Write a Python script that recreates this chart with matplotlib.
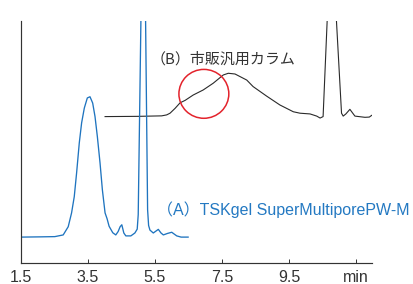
import matplotlib
matplotlib.use('Agg')
import matplotlib.pyplot as plt
from matplotlib.patches import Ellipse

W, H = 414, 284

# (A) TSKgel SuperMultiporePW-M  (time in min, signal)
blue_t = [1.5, 2.07, 2.51, 2.76, 2.91, 3.01, 3.09, 3.16, 3.24, 3.31, 3.39, 3.48, 3.56,
          3.64, 3.71, 3.78, 3.86, 3.93, 4.01, 4.07, 4.13, 4.24, 4.33, 4.40, 4.46, 4.51,
          4.57, 4.63, 4.78, 4.90, 4.97, 5.00, 5.08, 5.15, 5.22, 5.28, 5.31, 5.35, 5.45,
          5.53, 5.60, 5.68, 5.75, 5.87, 6.00, 6.15, 6.28, 6.49]
blue_v = [10.7, 10.8, 10.9, 11.6, 15.0, 20.7, 27.4, 37.2, 49.6, 57.9, 64.0, 68.2, 68.7,
          66.1, 60.5, 52.2, 41.3, 30.2, 20.7, 18.3, 15.2, 12.5, 11.6, 13.0, 15.0, 15.8,
          12.4, 11.2, 11.2, 12.4, 14.0, 20.0, 100, 165, 100, 22.0, 15.5, 13.6, 12.4,
          13.2, 13.9, 12.4, 11.6, 12.2, 12.7, 11.2, 10.7, 10.7]

# (B) commercial column
black_t = [4.01, 5.0, 5.70, 5.85, 5.95, 6.10, 6.25, 6.40, 6.64, 6.94, 7.24, 7.54, 7.69,
           7.89, 8.24, 8.43, 8.83, 9.23, 9.63, 9.83, 10.13, 10.33, 10.43, 10.52, 10.64,
           10.78, 10.92, 11.07, 11.12, 11.20, 11.32, 11.40, 11.47, 11.77, 11.90, 11.97]
black_v = [60.5, 60.6, 60.8, 61.2, 61.9, 63.9, 66.2, 67.2, 69.4, 71.5, 74.3, 77.7, 78.4,
           78.1, 75.6, 72.9, 69.0, 65.3, 62.5, 61.9, 61.6, 60.7, 59.9, 60.5, 99.7,
           140, 99.7, 61.9, 60.7, 61.6, 63.5, 62.0, 60.7, 60.2, 60.3, 61.0]

ticks = [1.5, 3.5, 5.5, 7.5, 9.5, 11.5]
tick_labels = ['1.5', '3.5', '5.5', '7.5', '9.5', 'min']

blue = '#1f74bf'
dark = '#333333'

fig = plt.figure(figsize=(W / 100, H / 100), dpi=100)
ax = fig.add_axes([21 / W, 1 - 263 / H, (372 - 21) / W, (263 - 21) / H])

ax.plot(black_t, black_v, color='#2a2a2a', lw=0.8, solid_joinstyle='round')
ax.plot(blue_t, blue_v, color=blue, lw=0.95, solid_joinstyle='round')

# red circle marking the shoulder
ax.add_patch(Ellipse((6.96, 69.9), width=1.49, height=20.2, fill=False,
                     ec='#e3232c', lw=1.1, zorder=5))

ax.set_xlim(1.5, 11.98)
ax.set_ylim(0, 100)
ax.set_yticks([])
ax.set_xticks(ticks)
ax.set_xticklabels(tick_labels, fontfamily='Liberation Sans', fontsize=11.5, color=dark)
ax.tick_params(axis='x', direction='in', length=3, width=0.7, color=dark, pad=5.3)
for s in ['top', 'right']:
    ax.spines[s].set_visible(False)
for s in ['left', 'bottom']:
    ax.spines[s].set_color(dark)
    ax.spines[s].set_linewidth(0.85)

fig.text(151 / W, 1 - 63.5 / H, '（B）市販汎用カラム', color=dark, fontsize=10.8,
         family=['Noto Sans CJK JP', 'DejaVu Sans'], ha='left', va='baseline')
fig.text(157 / W, 1 - 215 / H, '（A）TSKgel SuperMultiporePW-M', color='#2479c2',
         fontsize=11.5, family=['Liberation Sans', 'Noto Sans CJK JP'],
         ha='left', va='baseline')

fig.savefig('out.png', dpi=100)
